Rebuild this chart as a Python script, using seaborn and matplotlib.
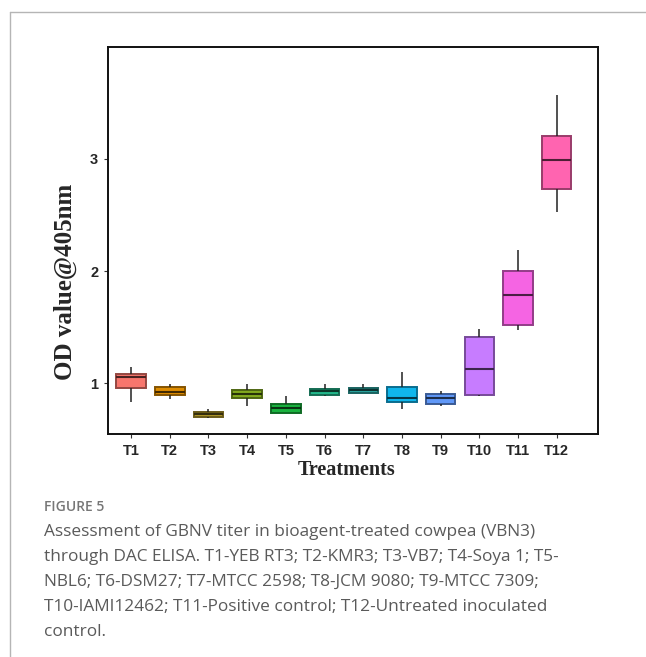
import numpy as np
import pandas as pd
import matplotlib
matplotlib.use('Agg')
import matplotlib.pyplot as plt
import matplotlib.colors as mcolors
from matplotlib.lines import Line2D
import seaborn as sns

# box summaries (OD value @405nm)
treatments = ['T1', 'T2', 'T3', 'T4', 'T5', 'T6', 'T7', 'T8', 'T9', 'T10', 'T11', 'T12']
whisk_lo = [0.83, 0.86, 0.685, 0.795, 0.73, 0.88, 0.91, 0.77, 0.795, 0.88, 1.47, 2.53]
q1 = [0.96, 0.89, 0.695, 0.865, 0.735, 0.895, 0.91, 0.83, 0.81, 0.89, 1.52, 2.73]
median = [1.055, 0.92, 0.72, 0.905, 0.775, 0.925, 0.935, 0.87, 0.87, 1.125, 1.79, 2.99]
q3 = [1.085, 0.965, 0.745, 0.94, 0.81, 0.945, 0.955, 0.965, 0.90, 1.41, 2.0, 3.205]
whisk_hi = [1.145, 0.99, 0.765, 0.99, 0.88, 0.99, 0.99, 1.10, 0.93, 1.48, 2.19, 3.57]

box_colors = ['#F8766D', '#DE8C00', '#B0982A', '#82AA1E', '#19B23E', '#22B68A',
              '#2AA5A0', '#10B6EC', '#6098F8', '#C77CFF', '#F564E3', '#FF64B0']

caption = ("Assessment of GBNV titer in bioagent-treated cowpea (VBN3)\n"
           "through DAC ELISA. T1-YEB RT3; T2-KMR3; T3-VB7; T4-Soya 1; T5-\n"
           "NBL6; T6-DSM27; T7-MTCC 2598; T8-JCM 9080; T9-MTCC 7309;\n"
           "T10-IAMI12462; T11-Positive control; T12-Untreated inoculated\n"
           "control.")

# five points per group -> quartiles/whiskers come out exactly as above
rows = []
for i, t in enumerate(treatments):
    for v in (whisk_lo[i], q1[i], median[i], q3[i], whisk_hi[i]):
        rows.append((t, v))
df = pd.DataFrame(rows, columns=['treatment', 'od'])

sns.set_style('ticks')
plt.rcParams['font.family'] = ['Liberation Sans', 'DejaVu Sans']

fig = plt.figure(figsize=(6.46, 6.57), dpi=100)
ax = fig.add_axes([0.167, 0.3394, 0.759, 0.5891])

sns.boxplot(data=df, x='treatment', y='od', hue='treatment', order=treatments,
            hue_order=treatments, palette=box_colors, legend=False, whis=(0, 100),
            showcaps=False, showfliers=False, width=0.76, saturation=1,
            linewidth=1.3, dodge=False, ax=ax)


def darker(c, f):
    r, g, b = mcolors.to_rgb(c)
    return (r * f, g * f, b * f)


for i, p in enumerate(ax.patches):
    p.set_edgecolor(darker(box_colors[i], 0.6))
    p.set_linewidth(1.4)

for ln in ax.lines:
    xd = np.asarray(ln.get_xdata(), dtype=float)
    k = int(round(xd.mean()))
    if abs(xd[0] - xd[-1]) > 1e-6:
        ln.set_color(darker(box_colors[k], 0.3))
        ln.set_linewidth(1.5)
    else:
        ln.set_color('#222222')
        ln.set_linewidth(1.1)

ax.set_xlim(-0.6, 12.07)
ax.set_ylim(0.545, 4.0)
ax.set_yticks([1, 2, 3])
ax.set_yticklabels(['1', '2', '3'])
for s in ax.spines.values():
    s.set_color('#111111')
    s.set_linewidth(1.4)
ax.tick_params(axis='both', length=3, width=0.8, color='#333333', labelsize=10.5, pad=4)
for lab in ax.get_xticklabels() + ax.get_yticklabels():
    lab.set_fontweight('bold')

ax.set_xlabel('Treatments', family='Liberation Serif', fontweight='bold', fontsize=14.5)
ax.set_ylabel('OD value@405nm', family='Liberation Serif', fontweight='bold', fontsize=18)
ax.xaxis.set_label_coords(0.486, -0.066)
ax.yaxis.set_label_coords(-0.063, 0.393)

# page frame and caption
fig.add_artist(Line2D([10 / 646, 10 / 646], [0, 1 - 12 / 657], color='#b5b5b5', lw=1.0))
fig.add_artist(Line2D([10 / 646, 1], [1 - 12 / 657, 1 - 12 / 657], color='#b5b5b5', lw=1.0))
fig.text(44 / 646, 1 - 507 / 657, 'FIGURE 5', family='Open Sans', fontsize=10,
         fontweight='semibold', color='#777777', va='center', ha='left')
fig.text(44 / 646, 1 - 523.5 / 657, caption, family='Open Sans', fontsize=12.4,
         color='#5a5a5a', va='top', ha='left', linespacing=1.76)

fig.savefig('out.png', dpi=100)
